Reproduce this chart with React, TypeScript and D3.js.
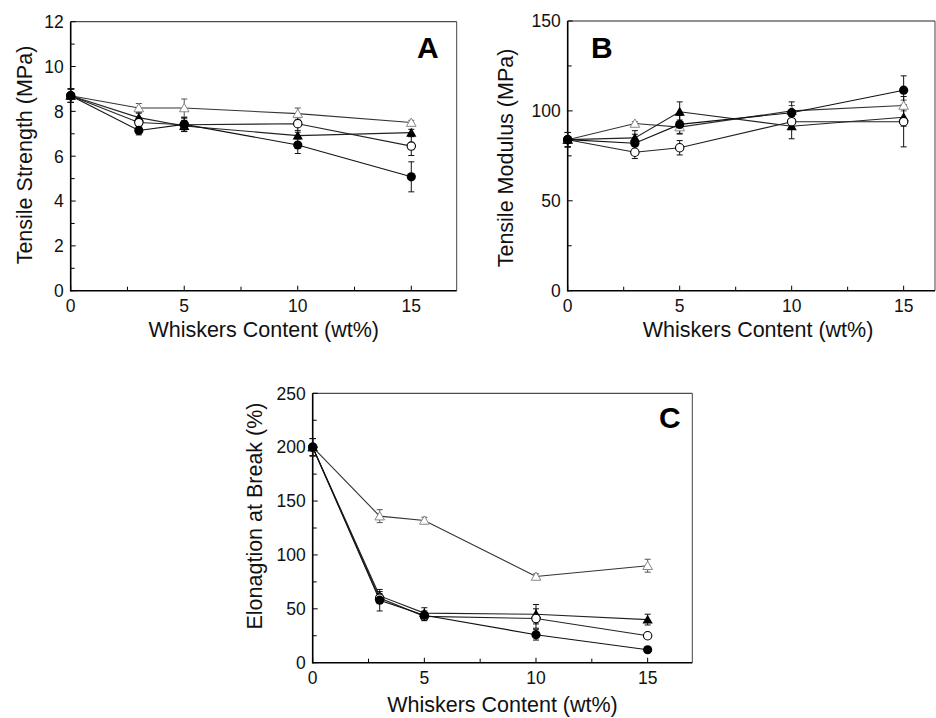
import React from 'react';
import * as d3 from 'd3';

// whisker loading, wt%
const contents = [0, 3, 5, 10, 15];

// A: tensile strength (MPa)
const strengthFilledCircle = [8.7, 7.15, 7.42, 6.5, 5.08];
const strengthFilledCircleErr = [0.3, 0.2, 0.3, 0.38, 0.67];
const strengthOpenCircle = [8.7, 7.5, 7.4, 7.45, 6.45];
const strengthOpenCircleErr = [0.3, 0.2, 0.3, 0.3, 0.42];
const strengthFilledTriangle = [8.7, 7.72, 7.35, 6.92, 7.05];
const strengthFilledTriangleErr = [0.3, 0.2, 0.25, 0.15, 0.15];
const strengthOpenTriangle = [8.7, 8.15, 8.15, 7.9, 7.5];
const strengthOpenTriangleErr = [0.3, 0.2, 0.4, 0.25, 0.1];

// B: tensile modulus (MPa)
const modulusFilledCircle = [84, 82, 92.5, 99, 111.5];
const modulusFilledCircleErr = [4, 5, 5, 6, 8];
const modulusOpenCircle = [84, 77, 79.5, 94, 94];
const modulusOpenCircleErr = [4, 3.5, 4, 3, 14];
const modulusFilledTriangle = [84, 85, 99.5, 91.5, 96.5];
const modulusFilledTriangleErr = [4, 4, 5.5, 7, 5];
const modulusOpenTriangle = [84, 93, 91, 100, 103];
const modulusOpenTriangleErr = [4, 1, 4, 3, 3];

// C: elongation at break (%)
const elongFilledCircle = [200, 58, 44, 26, 12];
const elongFilledCircleErr = [8, 10, 4, 5, 1.5];
const elongOpenCircle = [200, 60, 43, 41, 25];
const elongOpenCircleErr = [8, 4, 4, 9, 2];
const elongFilledTriangle = [200, 62, 46, 45, 40];
const elongFilledTriangleErr = [8, 4, 5, 9, 5];
const elongOpenTriangle = [200, 136, 132, 80, 90];
const elongOpenTriangleErr = [8, 6, 3, 2.5, 6];

const xTicks = [0, 5, 10, 15];
const xMinorTicks = [2.5, 7.5, 12.5];

const FONT = '"Liberation Sans", Arial, sans-serif';

type Marker = 'filledCircle' | 'openCircle' | 'filledTriangle' | 'openTriangle';
type Series = { marker: Marker; values: number[]; errors: number[] };

const lineColor: Record<Marker, string> = {
  filledCircle: '#111',
  openCircle: '#222',
  filledTriangle: '#222',
  openTriangle: '#333',
};

const drawMarker = (m: Marker, cx: number, cy: number, key: string) => {
  if (m === 'filledCircle') return <circle key={key} cx={cx} cy={cy} r={4.6} fill="#000" />;
  if (m === 'openCircle')
    return <circle key={key} cx={cx} cy={cy} r={4.2} fill="#fff" stroke="#000" strokeWidth={1.1} />;
  const tri = d3.symbol(d3.symbolTriangle, m === 'filledTriangle' ? 46 : 40)();
  return m === 'filledTriangle' ? (
    <path key={key} d={tri || ''} transform={`translate(${cx},${cy + 1})`} fill="#000" />
  ) : (
    <path key={key} d={tri || ''} transform={`translate(${cx},${cy + 1})`} fill="#fff" stroke="#888" strokeWidth={1} />
  );
};

type PanelProps = {
  left: number;
  right: number;
  top: number;
  bottom: number;
  xMax: number;
  titleXMax: number;
  yMax: number;
  yMajor: number[];
  yMinor: number[];
  yTitle: string;
  yTitleX: number;
  yTitleY: number;
  letter: string;
  letterX: number;
  letterY: number;
  xTitleY: number;
  series: Series[];
};

const Panel = (p: PanelProps) => {
  const x = d3.scaleLinear().domain([0, p.xMax]).range([p.left, p.right]);
  const y = d3.scaleLinear().domain([0, p.yMax]).range([p.bottom, p.top]);
  const titleCenter = (p.left + x(p.titleXMax)) / 2;
  const line = d3
    .line<number>()
    .x((_, i) => x(contents[i]))
    .y((v) => y(v));

  return (
    <g>
      {/* frame */}
      <line x1={p.left} y1={p.top} x2={p.right} y2={p.top} stroke="#222" strokeWidth={1} />
      <line x1={p.right} y1={p.top} x2={p.right} y2={p.bottom} stroke="#444" strokeWidth={1} />
      <line x1={p.left} y1={p.top} x2={p.left} y2={p.bottom + 0.75} stroke="#000" strokeWidth={1.6} />
      <line x1={p.left} y1={p.bottom} x2={p.right} y2={p.bottom} stroke="#000" strokeWidth={1.6} />

      {/* y ticks */}
      {p.yMajor.map((t) => (
        <g key={`ym-${t}`}>
          <line x1={p.left} x2={p.left + 5} y1={y(t)} y2={y(t)} stroke="#000" strokeWidth={1} />
          <text x={p.left - 7} y={y(t)} dy="0.36em" textAnchor="end" fontSize={17.5} fill="#111">
            {t}
          </text>
        </g>
      ))}
      {p.yMinor.map((t) => (
        <line key={`yn-${t}`} x1={p.left} x2={p.left + 4} y1={y(t)} y2={y(t)} stroke="#000" strokeWidth={1} />
      ))}

      {/* x ticks */}
      {xTicks.map((t) => (
        <g key={`xm-${t}`}>
          <line x1={x(t)} x2={x(t)} y1={p.bottom} y2={p.bottom - 5} stroke="#000" strokeWidth={1} />
          <text x={x(t)} y={p.bottom + 21} textAnchor="middle" fontSize={17.5} fill="#111">
            {t}
          </text>
        </g>
      ))}
      {xMinorTicks.map((t) => (
        <line key={`xn-${t}`} x1={x(t)} x2={x(t)} y1={p.bottom} y2={p.bottom - 4} stroke="#000" strokeWidth={1} />
      ))}

      {/* lines */}
      {p.series.map((s) => (
        <path key={`l-${s.marker}`} d={line(s.values) || ''} fill="none" stroke={lineColor[s.marker]} strokeWidth={1.1} />
      ))}

      {/* error bars */}
      {p.series.map((s) =>
        s.values.map((v, i) => {
          const cx = x(contents[i]);
          const y1 = y(v + s.errors[i]);
          const y2 = y(v - s.errors[i]);
          const c = s.marker === 'openTriangle' ? '#555' : '#111';
          return (
            <g key={`e-${s.marker}-${i}`} stroke={c} strokeWidth={1}>
              <line x1={cx} x2={cx} y1={y1} y2={y2} />
              <line x1={cx - 3} x2={cx + 3} y1={y1} y2={y1} />
              <line x1={cx - 3} x2={cx + 3} y1={y2} y2={y2} />
            </g>
          );
        })
      )}

      {/* markers */}
      {p.series.map((s) => s.values.map((v, i) => drawMarker(s.marker, x(contents[i]), y(v), `m-${s.marker}-${i}`)))}

      {/* titles */}
      <text
        transform={`translate(${p.yTitleX},${p.yTitleY}) rotate(-90)`}
        textAnchor="middle"
        fontSize={21.5}
        fill="#111"
      >
        {p.yTitle}
      </text>
      <text x={titleCenter} y={p.xTitleY} textAnchor="middle" fontSize={21.5} fill="#111">
        Whiskers Content (wt%)
      </text>
      <text x={p.letterX} y={p.letterY} fontSize={30} fontWeight="bold" fill="#000">
        {p.letter}
      </text>
    </g>
  );
};

const App = () => {
  const seriesA: Series[] = [
    { marker: 'openTriangle', values: strengthOpenTriangle, errors: strengthOpenTriangleErr },
    { marker: 'filledTriangle', values: strengthFilledTriangle, errors: strengthFilledTriangleErr },
    { marker: 'openCircle', values: strengthOpenCircle, errors: strengthOpenCircleErr },
    { marker: 'filledCircle', values: strengthFilledCircle, errors: strengthFilledCircleErr },
  ];
  const seriesB: Series[] = [
    { marker: 'openTriangle', values: modulusOpenTriangle, errors: modulusOpenTriangleErr },
    { marker: 'filledTriangle', values: modulusFilledTriangle, errors: modulusFilledTriangleErr },
    { marker: 'openCircle', values: modulusOpenCircle, errors: modulusOpenCircleErr },
    { marker: 'filledCircle', values: modulusFilledCircle, errors: modulusFilledCircleErr },
  ];
  const seriesC: Series[] = [
    { marker: 'openTriangle', values: elongOpenTriangle, errors: elongOpenTriangleErr },
    { marker: 'filledTriangle', values: elongFilledTriangle, errors: elongFilledTriangleErr },
    { marker: 'openCircle', values: elongOpenCircle, errors: elongOpenCircleErr },
    { marker: 'filledCircle', values: elongFilledCircle, errors: elongFilledCircleErr },
  ];

  return (
    <svg
      width={936}
      height={718}
      viewBox="0 0 936 718"
      style={{ position: 'absolute', left: 0, top: 0, background: '#fff', fontFamily: FONT }}
    >
      <rect width={936} height={718} fill="#fff" />
      <Panel
        left={70.7}
        right={456.7}
        top={21.7}
        bottom={290.7}
        xMax={17}
        titleXMax={17}
        yMax={12}
        yMajor={[0, 2, 4, 6, 8, 10, 12]}
        yMinor={[1, 3, 5, 7, 9, 11]}
        yTitle="Tensile Strength (MPa)"
        yTitleX={32}
        yTitleY={155}
        letter="A"
        letterX={417}
        letterY={58}
        xTitleY={337}
        series={seriesA}
      />
      <Panel
        left={567.7}
        right={935}
        top={21}
        bottom={290.7}
        xMax={16.4}
        titleXMax={17}
        yMax={150}
        yMajor={[0, 50, 100, 150]}
        yMinor={[25, 75, 125]}
        yTitle="Tensile Modulus (MPa)"
        yTitleX={512.5}
        yTitleY={158}
        letter="B"
        letterX={591}
        letterY={58}
        xTitleY={337}
        series={seriesB}
      />
      <Panel
        left={312.7}
        right={692.3}
        top={393.3}
        bottom={662.7}
        xMax={17}
        titleXMax={17}
        yMax={250}
        yMajor={[0, 50, 100, 150, 200, 250]}
        yMinor={[25, 75, 125, 175, 225]}
        yTitle="Elonagtion at Break (%)"
        yTitleX={262}
        yTitleY={516}
        letter="C"
        letterX={659}
        letterY={428}
        xTitleY={712}
        series={seriesC}
      />
    </svg>
  );
};

export default App;
